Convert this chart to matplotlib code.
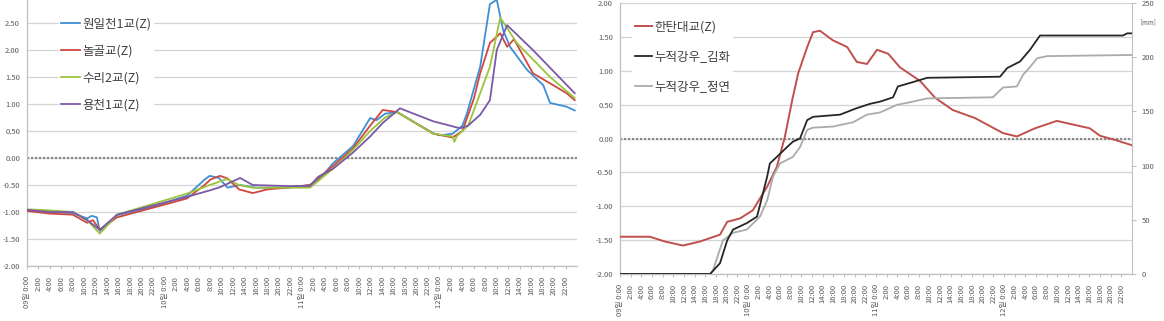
import matplotlib
matplotlib.use("Agg")
import matplotlib.pyplot as plt

plt.rcParams['font.family'] = ['Noto Sans CJK KR', 'DejaVu Sans']

# ---------------- data ----------------
days = ["09일", "10일", "11일", "12일"]
tick_hours = list(range(0, 96, 2))
tick_labels = [(f"{days[h // 24]} 0:00" if h % 24 == 0 else f"{h % 24}:00") for h in tick_hours]

# Left chart (hours, Z value)
blue_h = [0, 4, 8, 10.5, 11.3, 12.2, 12.7, 13.5, 15.7, 22, 27.9, 31, 31.9, 33.5, 35, 37.2, 40, 45.4, 49.4,
          51, 53.4, 56.9, 59.9, 61, 62.5, 64.6, 70.9, 72, 74.3, 76, 76.8, 79.1, 80.8, 82.0, 83.1, 84.3,
          87.3, 90.1, 91.3, 94.2, 95.6]
blue_v = [-0.97, -1.0, -1.02, -1.12, -1.07, -1.1, -1.35, -1.3, -1.06, -0.9, -0.7, -0.4, -0.33, -0.37, -0.55,
          -0.5, -0.55, -0.55, -0.5, -0.4, -0.1, 0.22, 0.74, 0.7, 0.82, 0.85, 0.46, 0.42, 0.45, 0.6, 0.83,
          1.69, 2.85, 2.93, 2.37, 2.06, 1.63, 1.35, 1.02, 0.95, 0.88]

red_h = [0, 4, 8, 10.5, 11.5, 12.7, 15.7, 22, 27.9, 31, 32, 33.7, 35, 37, 39.4, 42, 45.4, 49.4, 53.4,
         56.9, 59.9, 62.1, 64.6, 70.9, 74.3, 76, 78, 79.1, 80.8, 82.6, 83.8, 85, 88.3, 94.2, 95.6]
red_v = [-0.98, -1.03, -1.05, -1.2, -1.15, -1.33, -1.1, -0.92, -0.75, -0.5, -0.4, -0.33, -0.38, -0.58,
         -0.65, -0.58, -0.55, -0.5, -0.15, 0.18, 0.6, 0.89, 0.85, 0.45, 0.38, 0.5, 1.1, 1.57, 2.13, 2.31,
         2.06, 2.2, 1.57, 1.2, 1.07]

green_h = [0, 4, 8, 10.5, 12.7, 15.7, 22, 27.9, 31.9, 34.9, 37, 39.4, 45.4, 49.4, 53.4, 56.9, 59.9, 62.5,
           64.6, 70.9, 74.3, 74.6, 75, 77, 79.1, 80.8, 82.6, 85.5, 91.3, 95.6]
green_v = [-0.95, -0.97, -1.0, -1.15, -1.4, -1.05, -0.85, -0.66, -0.5, -0.39, -0.5, -0.55, -0.55, -0.55,
           -0.2, 0.15, 0.5, 0.75, 0.85, 0.45, 0.4, 0.3, 0.4, 0.6, 1.2, 1.69, 2.6, 2.13, 1.5, 1.11]

purple_h = [0, 4, 8, 10.5, 12.7, 15.7, 22, 27.9, 31.9, 33.7, 37.2, 39.4, 45.4, 49.4, 50.8, 53.4, 56.9,
            59.9, 62.1, 65.1, 70.9, 75.6, 77, 79.1, 80.8, 82, 83.8, 88.3, 95.6]
purple_v = [-0.96, -1.0, -1.0, -1.15, -1.33, -1.05, -0.88, -0.72, -0.6, -0.54, -0.37, -0.5, -0.52, -0.52,
            -0.35, -0.2, 0.1, 0.4, 0.65, 0.92, 0.68, 0.55, 0.6, 0.8, 1.07, 2.0, 2.46, 2.0, 1.2]

left_names = ["원일천1교(Z)", "놀골교(Z)", "수리2교(Z)", "용천1교(Z)"]

# Right chart
hantan_h = [0, 5.6, 8.4, 11.8, 15, 18.75, 20.1, 22.5, 24.9, 27.6, 29.4, 30.9, 32.3, 33.4, 35.1, 36.2, 37.5,
            39.9, 42.6, 44.4, 46.3, 48.2, 50.3, 52.5, 56.25, 59.1, 62.4, 66.6, 71.8, 74.4, 77.8, 81.9, 85.3,
            88.1, 90, 92.8, 96]
hantan_v = [-1.45, -1.45, -1.52, -1.58, -1.52, -1.42, -1.23, -1.18, -1.06, -0.71, -0.42, 0.02, 0.57, 0.96,
            1.35, 1.57, 1.59, 1.45, 1.35, 1.13, 1.1, 1.31, 1.25, 1.05, 0.85, 0.6, 0.42, 0.3, 0.08, 0.03, 0.15,
            0.26, 0.2, 0.15, 0.04, -0.02, -0.1]

gimhwa_h = [0, 16.9, 18.75, 20.1, 21.2, 23.8, 25.7, 27.6, 28.1, 29.4, 31.3, 32.4, 33.75, 35.1, 36.2, 41.25,
            44.4, 46.9, 48.75, 51.2, 52.1, 54.9, 57.6, 71.25, 72.6, 75, 76.9, 78.75, 94.3, 95.1, 96]
gimhwa_v = [0, 0, 10, 31, 41, 47, 53, 90, 102, 108, 117, 122, 125, 142, 145, 147, 153, 157, 159, 163, 173,
            177, 181, 182, 190, 196, 207, 220, 220, 222, 222]

jeongyeon_h = [0, 16.9, 17.4, 19.3, 21.2, 23.8, 26.25, 27.6, 28.7, 30, 32.4, 33.75, 35.1, 36.2, 39.9, 43.7,
               46.3, 48.75, 51.9, 54.9, 57.6, 69.9, 71.8, 74.4, 75.6, 76.9, 78.2, 80.1, 95.1, 96]
jeongyeon_v = [0, 0, 3, 31, 38, 41, 53, 68, 90, 102, 108, 117, 133, 135, 136, 140, 147, 149, 156, 159, 162,
               163, 172, 173, 184, 191, 199, 201, 202, 202]

right_names = ["한탄대교(Z)", "누적강우_김화", "누적강우_정연"]

# ---------------- styling ----------------
W, H = 1164, 321
fig = plt.figure(figsize=(W / 100, H / 100), dpi=100)
grid_c = "#d4d4d4"
spine_c = "#bfbfbf"
txt_c = "#595959"
leg_c = "#404040"


def style_time_axis(ax):
    ax.set_xlim(0, 96)
    ax.set_xticks(tick_hours)
    ax.set_xticklabels(tick_labels, rotation=90, fontsize=5.5, color=txt_c, va="top")
    ax.tick_params(axis="x", length=2, color=spine_c, pad=5)
    ax.tick_params(axis="y", length=0, labelsize=5.5, labelcolor=txt_c, pad=5)
    for s in ["top", "right"]:
        ax.spines[s].set_visible(False)
    for s in ["left", "bottom"]:
        ax.spines[s].set_color(spine_c)
        ax.spines[s].set_linewidth(0.9)
    ax.grid(axis="y", color=grid_c, lw=0.9)
    ax.set_axisbelow(True)
    ax.axhline(0, color="#8c8c8c", lw=1.6, ls=(0, (1, 0.8)), zorder=1)


def style_legend(leg):
    fr = leg.get_frame()
    fr.set_facecolor("white")
    fr.set_edgecolor("none")
    fr.set_alpha(1)
    for t in leg.get_texts():
        t.set_color(leg_c)


# Left chart
axL = fig.add_axes([27 / W, 55 / H, 550 / W, 270 / H])
axL.set_ylim(-2, 3)
axL.set_yticks([-2 + 0.5 * i for i in range(11)])
axL.yaxis.set_major_formatter(matplotlib.ticker.FormatStrFormatter("%.2f"))
style_time_axis(axL)
colsL = ["#3d8fd6", "#d0473f", "#9cc43c", "#7a5aa6"]
for hh, vv, c, n in zip([blue_h, red_h, green_h, purple_h], [blue_v, red_v, green_v, purple_v], colsL, left_names):
    axL.plot(hh, vv, color=c, lw=1.3, label=n, zorder=3)
legL = axL.legend(loc="upper left", bbox_to_anchor=(0.058, 0.93), frameon=True, fontsize=9,
                  handlelength=1.5, handletextpad=0.15, labelspacing=1.12, borderpad=0.2, borderaxespad=0)
style_legend(legL)

# Right chart
axR = fig.add_axes([620 / W, 47 / H, 512 / W, 271 / H])
axR.set_ylim(-2, 2)
axR.set_yticks([-2 + 0.5 * i for i in range(9)])
axR.yaxis.set_major_formatter(matplotlib.ticker.FormatStrFormatter("%.2f"))
style_time_axis(axR)
lr, = axR.plot(hantan_h, hantan_v, color="#c0504d", lw=1.4, zorder=3)

axR2 = axR.twinx()
axR2.set_ylim(0, 250)
axR2.set_yticks(range(0, 251, 50))
axR2.tick_params(axis="y", length=3, color=spine_c, labelsize=5.5, labelcolor=txt_c, pad=4)
for s in ["top", "left", "bottom"]:
    axR2.spines[s].set_visible(False)
axR2.spines["right"].set_color(spine_c)
lk, = axR2.plot(gimhwa_h, gimhwa_v, color="#262626", lw=1.3, zorder=3)
lg, = axR2.plot(jeongyeon_h, jeongyeon_v, color="#ababab", lw=1.3, zorder=2)
axR2.text(1.017, 0.93, "[mm]", transform=axR2.transAxes, fontsize=4.5, color=txt_c, ha="left", va="center")

legR = axR2.legend([lr, lk, lg], right_names, loc="upper left", bbox_to_anchor=(0.024, 0.945), frameon=True,
                   fontsize=9, handlelength=1.4, handletextpad=0.15, labelspacing=1.35, borderpad=0.2,
                   borderaxespad=0)
style_legend(legR)

fig.savefig("out.png", dpi=100)
